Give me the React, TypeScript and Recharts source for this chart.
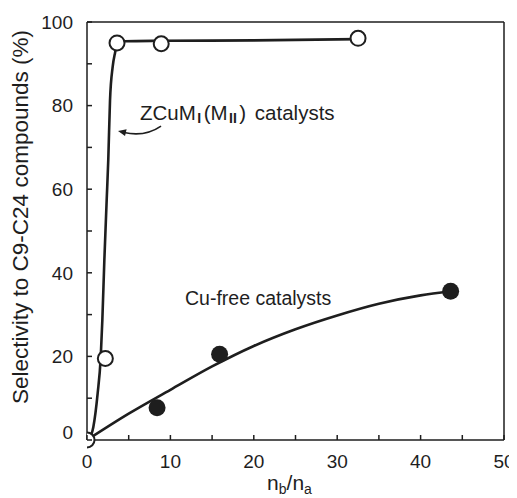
import React from 'react';
import { ComposedChart, Line, Scatter, XAxis, YAxis, ReferenceDot } from 'recharts';

const FONT = '"Liberation Sans", Arial, Helvetica, sans-serif';
const INK = '#1e1e1e';

// Measured points
const zcuPoints = [
  { x: 0, y: 0 },
  { x: 2.2, y: 19.5 },
  { x: 3.6, y: 95 },
  { x: 8.9, y: 94.8 },
  { x: 32.5, y: 96.1 },
];
const cuFreePoints = [
  { x: 8.4, y: 7.7 },
  { x: 15.9, y: 20.5 },
  { x: 43.6, y: 35.6 },
];
// Fitted curves
const zcuCurve = [
  { x: 0.2, y: 0 },
  { x: 0.76, y: 3.1 },
  { x: 1.28, y: 11.2 },
  { x: 1.64, y: 19.6 },
  { x: 1.84, y: 28.7 },
  { x: 2.08, y: 43 },
  { x: 2.36, y: 57.4 },
  { x: 2.55, y: 67 },
  { x: 2.76, y: 81.3 },
  { x: 3.08, y: 89.3 },
  { x: 3.36, y: 92.6 },
  { x: 3.6, y: 94.6 },
  { x: 4.5, y: 95.4 },
  { x: 9, y: 95.5 },
  { x: 20, y: 95.6 },
  { x: 32.5, y: 95.9 },
];
const cuFreeCurve = [
  { x: 0, y: 0 },
  { x: 5, y: 6.3 },
  { x: 10, y: 12 },
  { x: 15, y: 17.6 },
  { x: 20, y: 22.5 },
  { x: 25, y: 26.5 },
  { x: 30, y: 29.8 },
  { x: 35, y: 32.6 },
  { x: 40, y: 34.6 },
  { x: 43.6, y: 35.6 },
];

const xTicks = [0, 5, 10, 15, 20, 25, 30, 35, 40, 45, 50];
const xLabels = [0, 10, 20, 30, 40, 50];
const yTicks = [0, 10, 20, 30, 40, 50, 60, 70, 80, 90, 100];
const yLabels = [0, 20, 40, 60, 80, 100];

const yTitle = 'Selectivity to C9-C24 compounds (%)';
const zcuLabel = { x: 6.35, y: 76.6 };
const cuFreeLabel = { x: 11.75, y: 32.3 };
const arrowTip = { x: 3.72, y: 73.9 };

const TICK_LEN = 5;
const TICK_W = 1.5;

const BottomTick = (props: any) => {
  const { x, y, payload } = props;
  return (
    <g>
      <line x1={x} y1={y} x2={x} y2={y - TICK_LEN} stroke={INK} strokeWidth={TICK_W} />
      {xLabels.includes(payload.value) && (
        <text x={x} y={y + 14 + 13.7} textAnchor="middle" fontSize={19} fontFamily={FONT} fill={INK}>
          {payload.value}
        </text>
      )}
    </g>
  );
};

const TopTick = (props: any) => {
  const { x, y } = props;
  return <line x1={x} y1={y} x2={x} y2={y + TICK_LEN} stroke={INK} strokeWidth={TICK_W} />;
};

const LeftTick = (props: any) => {
  const { x, y, payload } = props;
  const dy = payload.value === 0 ? -8 : 0;
  return (
    <g>
      <line x1={x} y1={y} x2={x + TICK_LEN} y2={y} stroke={INK} strokeWidth={TICK_W} />
      {yLabels.includes(payload.value) && (
        <text x={x - 14} y={y + dy + 6.8} textAnchor="end" fontSize={19} fontFamily={FONT} fill={INK}>
          {payload.value}
        </text>
      )}
    </g>
  );
};

const RightTick = (props: any) => {
  const { x, y } = props;
  return <line x1={x} y1={y} x2={x - TICK_LEN} y2={y} stroke={INK} strokeWidth={TICK_W} />;
};

const OpenDot = (props: any) => (
  <circle cx={props.cx} cy={props.cy} r={7.5} fill="#fff" stroke={INK} strokeWidth={2} />
);
const FilledDot = (props: any) => (
  <circle cx={props.cx} cy={props.cy} r={8.5} fill={INK} stroke="none" />
);

const YTitle = (props: any) => {
  const vb = props.viewBox;
  const cx = vb.x - 7;
  const cy = vb.y + vb.height / 2 - 14;
  return (
    <text
      x={cx}
      y={cy}
      transform={`rotate(-90, ${cx}, ${cy})`}
      textAnchor="middle"
      dominantBaseline="central"
      fontSize={22.5}
      fontFamily={FONT}
      fill={INK}
    >
      {yTitle}
    </text>
  );
};

const XTitle = (props: any) => {
  const vb = props.viewBox;
  const cx = vb.x + vb.width / 2 - 6;
  const by = vb.y + 50;
  return (
    <text x={cx} y={by} textAnchor="middle" fontSize={21} fontFamily={FONT} fill={INK}>
      <tspan>n</tspan>
      <tspan fontSize={14} dy={4}>b</tspan>
      <tspan dy={-4}>/n</tspan>
      <tspan fontSize={14} dy={4}>a</tspan>
    </text>
  );
};

const ZcuText = (props: any) => (
  <text x={props.cx} y={props.cy} fontSize={20.5} fontFamily={FONT} fill={INK}>
    <tspan>ZCuM</tspan>
    <tspan fontSize={14} dy={3} dx={1.5} fontWeight="bold">I</tspan>
    <tspan dy={-3} dx={2.5}>(M</tspan>
    <tspan fontSize={14} dy={3} dx={1.5} fontWeight="bold">II</tspan>
    <tspan dy={-3} dx={2.5}>)</tspan>
    <tspan dx={3}> catalysts</tspan>
  </text>
);

const CuFreeText = (props: any) => (
  <text x={props.cx} y={props.cy} fontSize={19.5} fontFamily={FONT} fill={INK}>
    Cu-free catalysts
  </text>
);

const Arrow = (props: any) => {
  const { cx, cy } = props;
  return (
    <g>
      <path
        d={`M${cx + 43},${cy - 5} Q${cx + 27},${cy + 6} ${cx + 6},${cy + 1.4}`}
        fill="none"
        stroke={INK}
        strokeWidth={1.6}
      />
      <polygon
        points={`${cx},${cy} ${cx + 7},${cy + 4.8} ${cx + 8.6},${cy - 1.9}`}
        fill={INK}
      />
    </g>
  );
};

const axisLineStyle = { stroke: INK, strokeWidth: 1.5 };

export default function App() {
  return (
    <div style={{ width: 509, height: 490 }}>
      <style>{`html { overflow: hidden; }`}</style>
      <ComposedChart
        width={509}
        height={490}
        margin={{ top: 4, right: 3, bottom: 28, left: 19 }}
        style={{ fontFamily: FONT, overflow: 'visible' }}
      >
        <XAxis
          xAxisId="bottom"
          dataKey="x"
          type="number"
          domain={[0, 50]}
          ticks={xTicks}
          interval={0}
          tickSize={0}
          tickMargin={0}
          tick={<BottomTick />}
          axisLine={axisLineStyle}
          tickLine={false}
          height={30}
          allowDataOverflow
          label={<XTitle />}
        />
        <XAxis
          xAxisId="top"
          orientation="top"
          dataKey="x"
          type="number"
          domain={[0, 50]}
          ticks={xTicks}
          interval={0}
          tickSize={0}
          tickMargin={0}
          tick={<TopTick />}
          axisLine={axisLineStyle}
          tickLine={false}
          height={10}
        />
        <YAxis
          yAxisId="left"
          type="number"
          domain={[0, 100]}
          ticks={yTicks}
          interval={0}
          tickSize={0}
          tickMargin={0}
          tick={<LeftTick />}
          axisLine={axisLineStyle}
          tickLine={false}
          width={60}
          label={<YTitle />}
        />
        <YAxis
          yAxisId="right"
          orientation="right"
          type="number"
          domain={[0, 100]}
          ticks={yTicks}
          interval={0}
          tickSize={0}
          tickMargin={0}
          tick={<RightTick />}
          axisLine={axisLineStyle}
          tickLine={false}
          width={10}
        />
        <Line
          xAxisId="bottom"
          yAxisId="left"
          data={cuFreeCurve}
          dataKey="y"
          type="monotone"
          stroke={INK}
          strokeWidth={2.6}
          dot={false}
          activeDot={false}
          isAnimationActive={false}
        />
        <Line
          xAxisId="bottom"
          yAxisId="left"
          data={zcuCurve}
          dataKey="y"
          type="monotone"
          stroke={INK}
          strokeWidth={2.6}
          dot={false}
          activeDot={false}
          isAnimationActive={false}
        />
        <Scatter
          xAxisId="bottom"
          yAxisId="left"
          data={cuFreePoints}
          dataKey="y"
          shape={<FilledDot />}
          isAnimationActive={false}
        />
        <Scatter
          xAxisId="bottom"
          yAxisId="left"
          data={zcuPoints}
          dataKey="y"
          shape={<OpenDot />}
          isAnimationActive={false}
        />
        <ReferenceDot xAxisId="bottom" yAxisId="left" x={zcuLabel.x} y={zcuLabel.y} r={0} shape={<ZcuText />} ifOverflow="visible" />
        <ReferenceDot xAxisId="bottom" yAxisId="left" x={cuFreeLabel.x} y={cuFreeLabel.y} r={0} shape={<CuFreeText />} ifOverflow="visible" />
        <ReferenceDot xAxisId="bottom" yAxisId="left" x={arrowTip.x} y={arrowTip.y} r={0} shape={<Arrow />} ifOverflow="visible" />
      </ComposedChart>
    </div>
  );
}
